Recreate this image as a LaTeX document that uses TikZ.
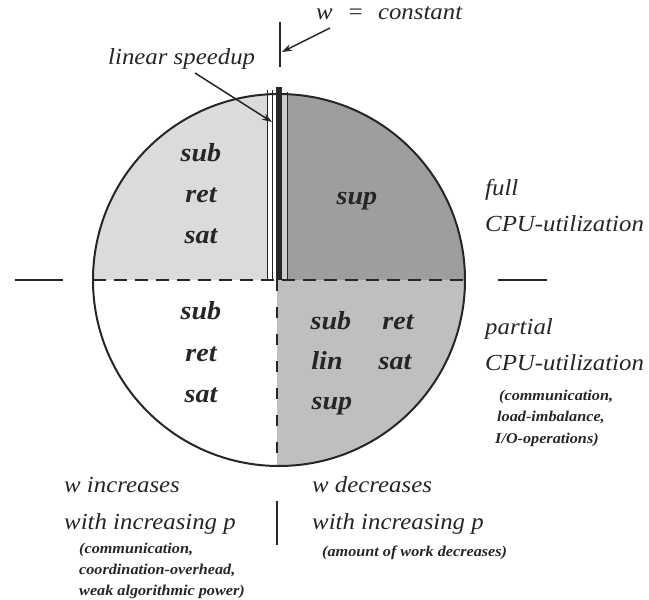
\documentclass[tikz,border=0pt]{standalone}
\usepackage{fontspec}
\setmainfont{Liberation Serif}[FakeStretch=1.08]
\usetikzlibrary{arrows.meta}

\definecolor{ulfill}{gray}{0.86}
\definecolor{urfill}{gray}{0.62}
\definecolor{stripfill}{gray}{0.80}
\definecolor{lrfill}{gray}{0.75}
\definecolor{ink}{gray}{0.15}

\tikzset{
  lbl/.style={font=\fontsize{23}{27}\selectfont\itshape, text=ink, inner sep=0pt, anchor=mid west},
  reg/.style={font=\fontsize{26}{30}\selectfont\bfseries\itshape, text=ink, inner sep=0pt, anchor=mid},
  note/.style={font=\fontsize{15}{18}\selectfont\bfseries\itshape, text=ink, inner sep=0pt, anchor=mid west},
  rim/.style={draw=ink, line width=2pt},
  hdash/.style={draw=ink, line width=2pt, dash pattern=on 13pt off 8pt},
  vdash/.style={draw=ink, line width=1.4pt, dash pattern=on 11pt off 16pt},
  thin/.style={draw=ink, line width=1pt},
  bar/.style={draw=ink, line width=6pt},
  tick/.style={draw=ink, line width=2.5pt},
  arr/.style={draw=ink, line width=1.5pt, -{Stealth[length=10pt,width=7pt]}}
}

\begin{document}
\begin{tikzpicture}[x=1pt,y=1pt]
\useasboundingbox (-279,-320) rectangle (370,280);
\coordinate (O) at (0,0);

% shaded quadrants of the disc
\begin{scope}
  \clip (O) circle (186);
  \fill[ulfill] (-190,0) rectangle (-11,190);
  \fill[urfill] (9,0) rectangle (190,190);
  \fill[stripfill] (3,0) rectangle (9,190);
  \fill[lrfill] (-2,0) rectangle (190,-190);
\end{scope}

% linear-speedup strip
\coordinate (s1b) at (-11,0);  \coordinate (s1t) at (-11,190);
\coordinate (s2b) at (-6,0);   \coordinate (s2t) at (-6,190);
\coordinate (s3b) at (0,0);    \coordinate (s3t) at (0,193);
\coordinate (s4b) at (9,0);    \coordinate (s4t) at (9,188);
\draw[thin] (s1b) -- (s1t);
\draw[thin] (s2b) -- (s2t);
\draw[bar] (s3b) -- (s3t);
\draw[thin] (s4b) -- (s4t);

% dividing lines
\coordinate (hl) at (-186,0); \coordinate (hr) at (186,0);
\coordinate (vt) at (-2,0);   \coordinate (vb) at (-2,-186);
\draw[hdash] (hl) -- (hr);
\draw[vdash] (vt) -- (vb);
\draw[rim] (O) circle (186);

% outer marks
\coordinate (la) at (-264,0); \coordinate (lb) at (-216,0);
\coordinate (ra) at (219,0);  \coordinate (rb) at (268,0);
\draw[tick] (la) -- (lb);
\draw[tick] (ra) -- (rb);
\coordinate (ta) at (1,258); \coordinate (tb) at (1,213);
\draw[tick] (ta) -- (tb);
\coordinate (ba) at (-2,-221); \coordinate (bb) at (-2,-265);
\draw[tick] (ba) -- (bb);

% top labels and arrows
\node[lbl] (wconst) at (37,263) {w\hspace{0.62em}=\hspace{0.62em}constant};
\node[lbl] (linsp) at (-171,218) {linear speedup};
\coordinate (wfrom) at (51,252);
\coordinate (wto) at (3,228);
\draw[arr] (wfrom) -- (wto);
\coordinate (lfrom) at (-84,207);
\coordinate (lto) at (-7,158);
\draw[arr] (lfrom) -- (lto);

% region labels
\node[reg] (ulsub) at (-78,121) {sub};
\node[reg] (ulret) at (-78,80) {ret};
\node[reg] (ulsat) at (-78,39) {sat};
\node[reg] (ursup) at (78,78) {sup};
\node[reg] (llsub) at (-78,-37) {sub};
\node[reg] (llret) at (-78,-79) {ret};
\node[reg] (llsat) at (-78,-120) {sat};
\node[reg] (lrsub) at (52,-47) {sub};
\node[reg] (lrret) at (119,-47) {ret};
\node[reg] (lrlin) at (48,-87) {lin};
\node[reg] (lrsat) at (116,-87) {sat};
\node[reg] (lrsup) at (53,-127) {sup};

% right-hand labels
\node[lbl] (full) at (206,87) {full};
\node[lbl] (cpu1) at (206,51) {CPU-utilization};
\node[lbl] (part) at (206,-52) {partial};
\node[lbl] (cpu2) at (206,-88) {CPU-utilization};
\node[note] (rn1) at (220,-118) {(communication,};
\node[note] (rn2) at (218,-139) {load-imbalance,};
\node[note] (rn3) at (216,-161) {I/O-operations)};

% bottom labels
\node[lbl] (winc) at (-215,-210) {w increases};
\node[lbl] (winc2) at (-215,-247) {with increasing p};
\node[note] (bn1) at (-200,-271) {(communication,};
\node[note] (bn2) at (-200,-292) {coordination-overhead,};
\node[note] (bn3) at (-200,-313) {weak algorithmic power)};
\node[lbl] (wdec) at (33,-210) {w decreases};
\node[lbl] (wdec2) at (33,-247) {with increasing p};
\node[note] (bn4) at (43,-274) {(amount of work decreases)};
\end{tikzpicture}
\end{document}
